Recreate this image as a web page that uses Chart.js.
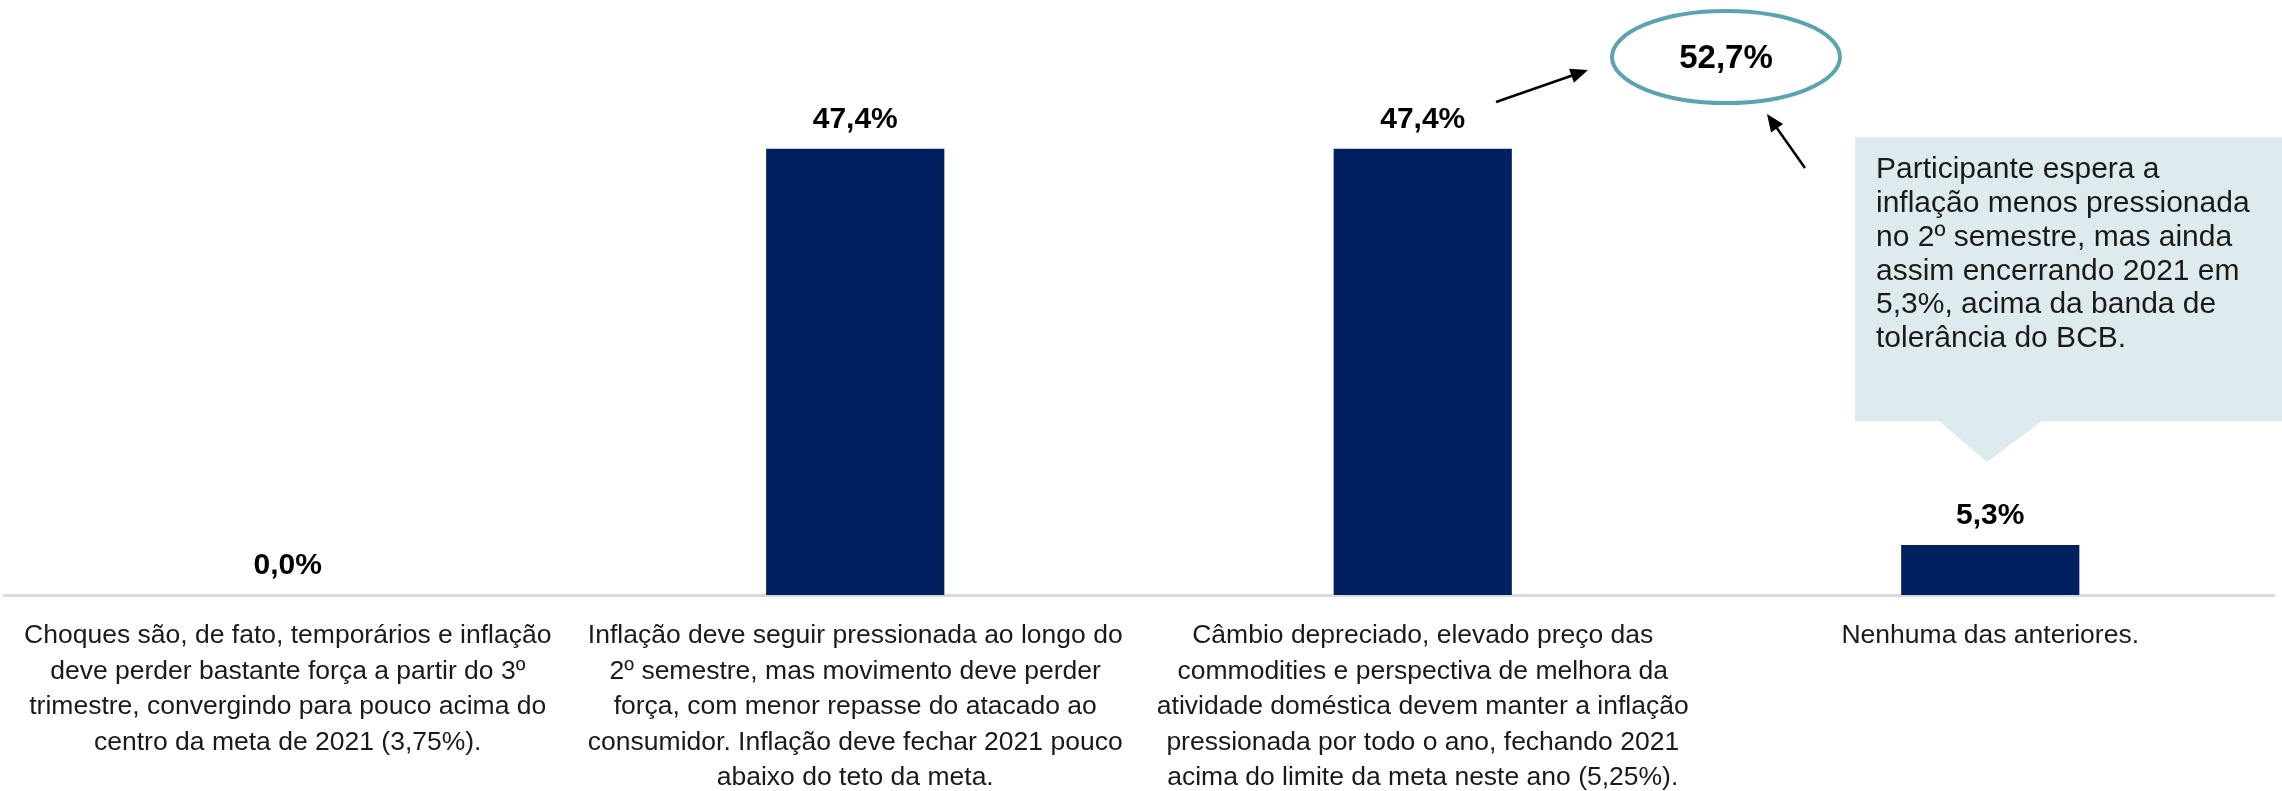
<!DOCTYPE html>
<html>
<head>
<meta charset="utf-8">
<script src="https://cdn.jsdelivr.net/npm/chart.js@4/dist/chart.umd.min.js"></script>
<style>
  html, body { margin: 0; padding: 0; background: #fff; }
  #wrap { width: 2282px; height: 791px; }
</style>
</head>
<body>
<div id="wrap"><canvas id="chart" width="2282" height="791"></canvas></div>
<script>
const categories = [
  ['Choques são, de fato, temporários e inflação', 'deve perder bastante força a partir do 3º', 'trimestre, convergindo para pouco acima do', 'centro da meta de 2021 (3,75%).'],
  ['Inflação deve seguir pressionada ao longo do', '2º semestre, mas movimento deve perder', 'força, com menor repasse do atacado ao', 'consumidor. Inflação deve fechar 2021 pouco', 'abaixo do teto da meta.'],
  ['Câmbio depreciado, elevado preço das', 'commodities e perspectiva de melhora da', 'atividade doméstica devem manter a inflação', 'pressionada por todo o ano, fechando 2021', 'acima do limite da meta neste ano (5,25%).'],
  ['Nenhuma das anteriores.'],
];
const shares = [0.0, 47.4, 47.4, 5.3];
const totalLabel = '52,7%';
const calloutLines = [
  'Participante espera a',
  'inflação menos pressionada',
  'no 2º semestre, mas ainda',
  'assim encerrando 2021 em',
  '5,3%, acima da banda de',
  'tolerância do BCB.',
];

const fmt = (v) => v.toFixed(1).replace('.', ',') + '%';

function arrow(ctx, x1, y1, x2, y2) {
  const a = Math.atan2(y2 - y1, x2 - x1);
  const head = 19;
  ctx.save();
  ctx.strokeStyle = '#000';
  ctx.fillStyle = '#000';
  ctx.lineWidth = 2.5;
  ctx.beginPath();
  ctx.moveTo(x1, y1);
  ctx.lineTo(x2 - Math.cos(a) * head * 0.8, y2 - Math.sin(a) * head * 0.8);
  ctx.stroke();
  ctx.beginPath();
  ctx.moveTo(x2, y2);
  ctx.lineTo(x2 - head * Math.cos(a - 0.4), y2 - head * Math.sin(a - 0.4));
  ctx.lineTo(x2 - head * Math.cos(a + 0.4), y2 - head * Math.sin(a + 0.4));
  ctx.closePath();
  ctx.fill();
  ctx.restore();
}

const valueLabels = {
  id: 'valueLabels',
  afterDatasetsDraw(chart) {
    const ctx = chart.ctx;
    const meta = chart.getDatasetMeta(0);
    ctx.save();
    ctx.font = 'bold 30px "Liberation Sans", Arial, sans-serif';
    ctx.fillStyle = '#000';
    ctx.textAlign = 'center';
    ctx.textBaseline = 'middle';
    meta.data.forEach((bar, i) => {
      ctx.fillText(fmt(shares[i]), bar.x, bar.y - 29);
    });
    ctx.restore();
  },
};

const annotations = {
  id: 'annotations',
  afterDraw(chart) {
    const ctx = chart.ctx;
    ctx.save();
    // total bubble
    ctx.strokeStyle = '#5BA3AE';
    ctx.lineWidth = 4;
    ctx.beginPath();
    ctx.ellipse(1726, 57, 114, 46, 0, 0, Math.PI * 2);
    ctx.stroke();
    ctx.fillStyle = '#000';
    ctx.font = 'bold 33px "Liberation Sans", Arial, sans-serif';
    ctx.textAlign = 'center';
    ctx.textBaseline = 'middle';
    ctx.fillText(totalLabel, 1726, 59);

    arrow(ctx, 1496, 102, 1588, 70);
    arrow(ctx, 1805, 168, 1767, 114);

    // callout
    ctx.fillStyle = '#DDEBEF';
    ctx.beginPath();
    ctx.moveTo(1855, 137);
    ctx.lineTo(2282, 137);
    ctx.lineTo(2282, 421);
    ctx.lineTo(2042, 421);
    ctx.lineTo(1987, 462);
    ctx.lineTo(1939, 421);
    ctx.lineTo(1855, 421);
    ctx.closePath();
    ctx.fill();
    ctx.fillStyle = '#1a1a1a';
    ctx.font = '30px "Liberation Sans", Arial, sans-serif';
    ctx.textAlign = 'left';
    ctx.textBaseline = 'middle';
    calloutLines.forEach((line, i) => {
      ctx.fillText(line, 1876, 170 + i * 33.8);
    });
    ctx.restore();
  },
};

new Chart(document.getElementById('chart'), {
  type: 'bar',
  data: {
    labels: categories,
    datasets: [
      {
        data: shares,
        backgroundColor: '#002060',
        categoryPercentage: 1,
        barPercentage: 0.314,
      },
    ],
  },
  options: {
    responsive: false,
    animation: false,
    layout: { padding: { top: 30, left: 4, right: 8, bottom: 0 } },
    plugins: {
      legend: { display: false },
      tooltip: { enabled: false },
    },
    scales: {
      x: {
        grid: { display: false, drawTicks: false },
        border: { display: true, color: '#d9d9d9', width: 3 },
        ticks: {
          maxRotation: 0,
          autoSkip: false,
          padding: 23,
          color: '#1a1a1a',
          font: { family: '"Liberation Sans", Arial, sans-serif', size: 26.5, lineHeight: 1.34 },
        },
        afterFit: (scale) => {
          scale.height = 196;
        },
      },
      y: {
        display: false,
        min: 0,
        max: 60,
      },
    },
  },
  plugins: [valueLabels, annotations],
});
</script>
</body>
</html>
